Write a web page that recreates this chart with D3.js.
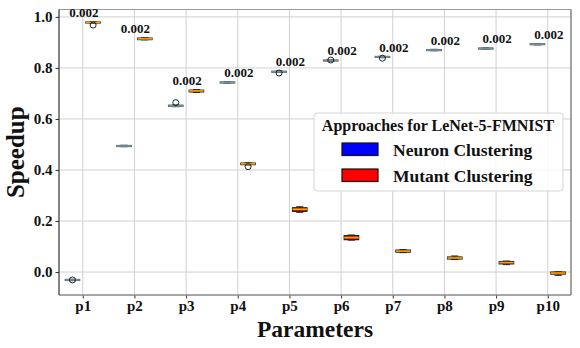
<!DOCTYPE html>
<html>
<head>
<meta charset="utf-8">
<script src="https://cdn.jsdelivr.net/npm/d3@7"></script>
<style>
  body { margin: 0; background: #fff; }
  text { font-family: "Liberation Serif", "DejaVu Serif", serif; font-weight: bold; }
</style>
</head>
<body>
<div id="chart"></div>
<script>
// chart size and plot area
const width = 580;
const height = 348;
const margin = {left: 59, right: 9, top: 9.5, bottom: 53};

// categories and tick labels
const params = ["p1", "p2", "p3", "p4", "p5", "p6", "p7", "p8", "p9", "p10"];
const yTicks = [0.0, 0.2, 0.4, 0.6, 0.8, 1.0];
const pLabels = ["0.002", "0.002", "0.002", "0.002", "0.002", "0.002", "0.002", "0.002", "0.002", "0.002"];

// Neuron Clustering boxes
const neuronLo  = [-0.034, 0.491, 0.648, 0.740, 0.782, 0.826, 0.840, 0.867, 0.873, 0.890];
const neuronQ1  = [-0.033, 0.492, 0.649, 0.741, 0.783, 0.827, 0.841, 0.868, 0.874, 0.891];
const neuronMed = [-0.031, 0.494, 0.651, 0.743, 0.785, 0.829, 0.843, 0.870, 0.876, 0.893];
const neuronQ3  = [-0.029, 0.496, 0.654, 0.745, 0.787, 0.831, 0.845, 0.872, 0.878, 0.895];
const neuronHi  = [-0.028, 0.497, 0.655, 0.746, 0.788, 0.832, 0.846, 0.873, 0.879, 0.896];
const neuronOut = [[-0.031], [], [0.664], [], [0.780], [0.831], [0.838], [], [], []];

// Mutant Clustering boxes
const mutantLo  = [0.975, 0.910, 0.704, 0.420, 0.234, 0.125, 0.076, 0.049, 0.029, -0.013];
const mutantQ1  = [0.976, 0.911, 0.706, 0.421, 0.238, 0.127, 0.078, 0.051, 0.032, -0.008];
const mutantMed = [0.978, 0.914, 0.710, 0.424, 0.246, 0.135, 0.082, 0.055, 0.037, -0.004];
const mutantQ3  = [0.980, 0.917, 0.713, 0.427, 0.252, 0.143, 0.086, 0.059, 0.041, 0.000];
const mutantHi  = [0.981, 0.918, 0.715, 0.428, 0.256, 0.145, 0.088, 0.063, 0.043, 0.001];
const mutantOut = [[0.968], [], [], [0.413], [], [], [], [], [], []];

const series = [
  {name: "Neuron Clustering", offset: -0.2, lo: neuronLo, q1: neuronQ1, med: neuronMed, q3: neuronQ3, hi: neuronHi, out: neuronOut,
   fill: "#9dbfce", stroke: "#4f5c62", median: "#77919c", legend: "#0000ff"},
  {name: "Mutant Clustering", offset: 0.2, lo: mutantLo, q1: mutantQ1, med: mutantMed, q3: mutantQ3, hi: mutantHi, out: mutantOut,
   fill: "#ff0000", stroke: "#222222", median: "#ffa500", legend: "#ff0000"}
];

const svg = d3.select("#chart")
  .append("svg")
  .attr("width", width)
  .attr("height", height);

// scales
const x = d3.scaleLinear()
  .domain([0.54, 10.45])
  .range([margin.left, width - margin.right]);

const y = d3.scaleLinear()
  .domain([-0.09, 1.029])
  .range([height - margin.bottom, margin.top]);

const boxW = 0.28;

// grid lines
svg.append("g")
  .selectAll("line")
  .data(yTicks)
  .join("line")
    .attr("x1", margin.left).attr("x2", width - margin.right)
    .attr("y1", d => y(d)).attr("y2", d => y(d))
    .attr("stroke", "#d0d0d0").attr("stroke-width", 1);

svg.append("g")
  .selectAll("line")
  .data(params)
  .join("line")
    .attr("x1", (d, i) => x(i + 1)).attr("x2", (d, i) => x(i + 1))
    .attr("y1", margin.top).attr("y2", height - margin.bottom)
    .attr("stroke", "#d0d0d0").attr("stroke-width", 1);

// axes
const yAxis = svg.append("g")
  .attr("transform", `translate(${margin.left},0)`)
  .call(d3.axisLeft(y).tickValues(yTicks).tickFormat(d3.format(".1f")).tickSize(3.5).tickPadding(3));
yAxis.select(".domain").remove();
yAxis.selectAll("text").attr("font-size", 15).attr("fill", "#111");
yAxis.selectAll("line").attr("stroke", "#333");

const xAxis = svg.append("g")
  .attr("transform", `translate(0,${height - margin.bottom})`)
  .call(d3.axisBottom(x).tickValues(d3.range(1, params.length + 1)).tickFormat(i => params[i - 1]).tickSize(3.5).tickPadding(2));
xAxis.select(".domain").remove();
xAxis.selectAll("text").attr("font-size", 15).attr("fill", "#111");
xAxis.selectAll("line").attr("stroke", "#333");

// frame
svg.append("line").attr("x1", margin.left).attr("x2", width - margin.right)
  .attr("y1", margin.top).attr("y2", margin.top).attr("stroke", "#9a9a9a").attr("stroke-width", 1.2);
svg.append("line").attr("x1", width - margin.right).attr("x2", width - margin.right)
  .attr("y1", margin.top).attr("y2", height - margin.bottom).attr("stroke", "#666").attr("stroke-width", 1.2);
svg.append("line").attr("x1", margin.left).attr("x2", width - margin.right)
  .attr("y1", height - margin.bottom).attr("y2", height - margin.bottom).attr("stroke", "#888").attr("stroke-width", 1.5);
svg.append("line").attr("x1", margin.left).attr("x2", margin.left)
  .attr("y1", margin.top).attr("y2", height - margin.bottom).attr("stroke", "#333").attr("stroke-width", 1.2);

// boxes
series.forEach(s => {
  const g = svg.append("g");
  const idx = d3.range(params.length);
  const cx = i => x(i + 1 + s.offset);
  const half = (x(boxW) - x(0)) / 2;

  // whiskers
  g.selectAll(".whisk").data(idx).join("line")
    .attr("x1", cx).attr("x2", cx)
    .attr("y1", i => y(s.lo[i])).attr("y2", i => y(s.hi[i]))
    .attr("stroke", s.stroke).attr("stroke-width", 1);
  g.selectAll(".capLo").data(idx).join("line")
    .attr("x1", i => cx(i) - half / 2).attr("x2", i => cx(i) + half / 2)
    .attr("y1", i => y(s.lo[i])).attr("y2", i => y(s.lo[i]))
    .attr("stroke", s.stroke).attr("stroke-width", 1);
  g.selectAll(".capHi").data(idx).join("line")
    .attr("x1", i => cx(i) - half / 2).attr("x2", i => cx(i) + half / 2)
    .attr("y1", i => y(s.hi[i])).attr("y2", i => y(s.hi[i]))
    .attr("stroke", s.stroke).attr("stroke-width", 1);

  // box
  g.selectAll("rect").data(idx).join("rect")
    .attr("x", i => cx(i) - half)
    .attr("width", half * 2)
    .attr("y", i => y(s.q3[i]))
    .attr("height", i => y(s.q1[i]) - y(s.q3[i]))
    .attr("fill", s.fill)
    .attr("stroke", s.stroke).attr("stroke-width", 1.2);

  // median
  g.selectAll(".med").data(idx).join("line")
    .attr("x1", i => cx(i) - half).attr("x2", i => cx(i) + half)
    .attr("y1", i => y(s.med[i])).attr("y2", i => y(s.med[i]))
    .attr("stroke", s.median).attr("stroke-width", 1.6);

  // fliers
  const fl = [];
  s.out.forEach((arr, i) => arr.forEach(v => fl.push({i, v})));
  g.selectAll("circle").data(fl).join("circle")
    .attr("cx", d => cx(d.i)).attr("cy", d => y(d.v))
    .attr("r", 3)
    .attr("fill", "none").attr("stroke", "#222").attr("stroke-width", 1);
});

// p-value labels above each pair
svg.append("g")
  .selectAll("text")
  .data(pLabels)
  .join("text")
    .attr("x", (d, i) => x(i + 1) + 1)
    .attr("y", (d, i) => y(d3.max([neuronHi[i], mutantHi[i], ...neuronOut[i], ...mutantOut[i]]) + 0.018))
    .attr("text-anchor", "middle")
    .attr("font-size", 13)
    .attr("fill", "#111")
    .text(d => d);

// axis titles
svg.append("text")
  .attr("x", (margin.left + width - margin.right) / 2)
  .attr("y", 337)
  .attr("text-anchor", "middle")
  .attr("font-size", 23.5)
  .attr("fill", "#111")
  .text("Parameters");

svg.append("text")
  .attr("transform", `translate(24,${(margin.top + height - margin.bottom) / 2}) rotate(-90)`)
  .attr("text-anchor", "middle")
  .attr("font-size", 25)
  .attr("fill", "#111")
  .text("Speedup");

// legend
const lg = svg.append("g");
lg.append("rect")
  .attr("x", 314).attr("y", 113).attr("width", 249).attr("height", 78)
  .attr("rx", 3)
  .attr("fill", "#fff").attr("fill-opacity", 0.85)
  .attr("stroke", "#d5d5d5");
lg.append("text")
  .attr("x", 438).attr("y", 131)
  .attr("text-anchor", "middle")
  .attr("font-size", 16)
  .attr("fill", "#111")
  .text("Approaches for LeNet-5-FMNIST");
series.forEach((s, k) => {
  lg.append("rect")
    .attr("x", 342).attr("y", 143 + k * 26).attr("width", 36).attr("height", 12.5)
    .attr("fill", s.legend).attr("stroke", "#111").attr("stroke-width", 1.2);
  lg.append("text")
    .attr("x", 393).attr("y", 156 + k * 26)
    .attr("font-size", 17.5)
    .attr("fill", "#111")
    .text(s.name);
});
</script>
</body>
</html>
